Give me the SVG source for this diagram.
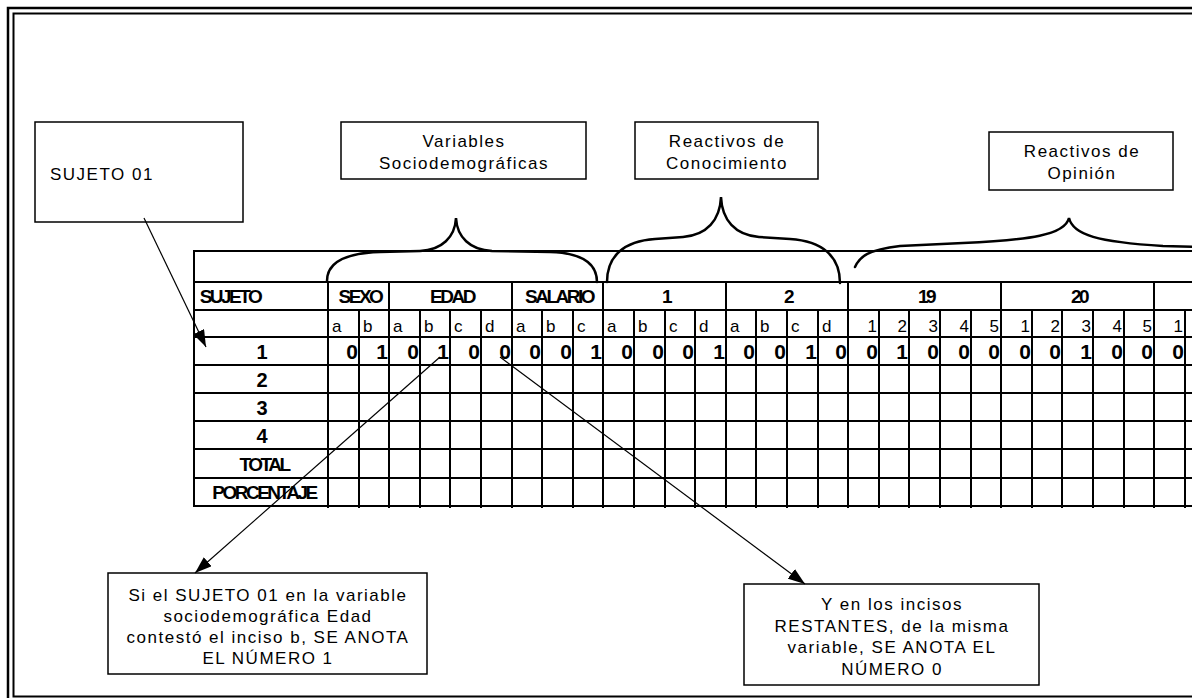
<svg xmlns="http://www.w3.org/2000/svg" width="1192" height="698" viewBox="0 0 1192 698">
<defs>
<style>
.frame{fill:none;stroke:#000}
.box{fill:#fff;stroke:#000;stroke-width:1.5}
.bt{font-family:"Liberation Sans",Arial,sans-serif;font-size:17px;letter-spacing:1.5px;fill:#000}
.c{text-anchor:middle}
.grid line{stroke:#000;stroke-width:2}
.hd{font-family:"Liberation Sans",Arial,sans-serif;font-size:19px;font-weight:bold;letter-spacing:-2.5px;fill:#000;text-anchor:middle}
.lt{font-family:"Liberation Sans",Arial,sans-serif;font-size:17px;fill:#000}
.nr{font-family:"Liberation Sans",Arial,sans-serif;font-size:17px;fill:#000;text-anchor:end}
.val{font-family:"Liberation Sans",Arial,sans-serif;font-size:21px;font-weight:bold;fill:#000;text-anchor:end}
.lab{font-family:"Liberation Sans",Arial,sans-serif;font-size:20px;font-weight:bold;fill:#000;text-anchor:middle}
.brace{fill:none;stroke:#000;stroke-width:2.5;stroke-linecap:round}
.conn line{stroke:#000;stroke-width:1.2}
</style>
<marker id="ah" markerUnits="userSpaceOnUse" markerWidth="18" markerHeight="12" refX="17" refY="6" orient="auto">
<path d="M0,0 L17,6 L0,12 z" fill="#000"/>
</marker>
</defs>
<rect width="1192" height="698" fill="#fff"/>
<g id="frame">
<rect class="frame" x="8" y="8" width="1200" height="700" stroke-width="2.5"/>
<rect class="frame" x="13.5" y="13.5" width="1190" height="683" stroke-width="2"/>
</g>

<g id="box-sujeto">
<rect class="box" x="35" y="122" width="208" height="100"/>
<text class="bt" x="50" y="180">SUJETO 01</text>
</g>
<g id="box-socio">
<rect class="box" x="341" y="122" width="245" height="57"/>
<text class="bt c" x="464" y="147">Variables</text>
<text class="bt c" x="464" y="169">Sociodemográficas</text>
</g>
<g id="box-conoc">
<rect class="box" x="635" y="122" width="183" height="57"/>
<text class="bt c" x="727" y="147">Reactivos de</text>
<text class="bt c" x="727" y="169">Conocimiento</text>
</g>
<g id="box-opinion">
<rect class="box" x="989" y="132" width="184" height="58"/>
<text class="bt c" x="1082" y="157">Reactivos de</text>
<text class="bt c" x="1082" y="179">Opinión</text>
</g>
<g id="box-nota1">
<rect class="box" x="108" y="573" width="319" height="101"/>
<text class="bt c" x="268" y="601">Si el SUJETO 01 en la variable</text>
<text class="bt c" x="268" y="622">sociodemográfica Edad</text>
<text class="bt c" x="268" y="643">contestó el inciso b, SE ANOTA</text>
<text class="bt c" x="268" y="664">EL NÚMERO 1</text>
</g>
<g id="box-nota2">
<rect class="box" x="744" y="584" width="295" height="101"/>
<text class="bt c" x="892" y="610">Y en los incisos</text>
<text class="bt c" x="892" y="632">RESTANTES, de la misma</text>
<text class="bt c" x="892" y="653">variable, SE ANOTA EL</text>
<text class="bt c" x="892" y="675">NÚMERO 0</text>
</g>

<g id="table">
<g class="grid">
<line x1="193" y1="251" x2="1200" y2="251"/>
<line x1="193" y1="282" x2="1200" y2="282"/>
<line x1="193" y1="310" x2="1200" y2="310"/>
<line x1="193" y1="337" x2="1200" y2="337"/>
<line x1="193" y1="365" x2="1200" y2="365"/>
<line x1="193" y1="393" x2="1200" y2="393"/>
<line x1="193" y1="421" x2="1200" y2="421"/>
<line x1="193" y1="449" x2="1200" y2="449"/>
<line x1="193" y1="478" x2="1200" y2="478"/>
<line x1="193" y1="506" x2="1200" y2="506"/>
<line x1="194" y1="250" x2="194" y2="507"/>
<line x1="328" y1="282" x2="328" y2="508"/>
<line x1="389" y1="282" x2="389" y2="508"/>
<line x1="512" y1="282" x2="512" y2="508"/>
<line x1="603" y1="282" x2="603" y2="508"/>
<line x1="726" y1="282" x2="726" y2="508"/>
<line x1="848" y1="282" x2="848" y2="508"/>
<line x1="1001" y1="282" x2="1001" y2="508"/>
<line x1="1154" y1="282" x2="1154" y2="508"/>
<line x1="359" y1="310" x2="359" y2="508"/>
<line x1="420" y1="310" x2="420" y2="508"/>
<line x1="450" y1="310" x2="450" y2="508"/>
<line x1="481" y1="310" x2="481" y2="508"/>
<line x1="542" y1="310" x2="542" y2="508"/>
<line x1="573" y1="310" x2="573" y2="508"/>
<line x1="634" y1="310" x2="634" y2="508"/>
<line x1="665" y1="310" x2="665" y2="508"/>
<line x1="695" y1="310" x2="695" y2="508"/>
<line x1="756" y1="310" x2="756" y2="508"/>
<line x1="787" y1="310" x2="787" y2="508"/>
<line x1="818" y1="310" x2="818" y2="508"/>
<line x1="879" y1="310" x2="879" y2="508"/>
<line x1="909" y1="310" x2="909" y2="508"/>
<line x1="940" y1="310" x2="940" y2="508"/>
<line x1="971" y1="310" x2="971" y2="508"/>
<line x1="1032" y1="310" x2="1032" y2="508"/>
<line x1="1062" y1="310" x2="1062" y2="508"/>
<line x1="1093" y1="310" x2="1093" y2="508"/>
<line x1="1124" y1="310" x2="1124" y2="508"/>
<line x1="1185" y1="310" x2="1185" y2="508"/>
</g>
<g id="header-row">
<text class="hd" x="230" y="303" style="text-anchor:middle">SUJETO</text>
<text class="hd" x="360" y="303">SEXO</text>
<text class="hd" x="452" y="303">EDAD</text>
<text class="hd" x="559" y="303">SALARIO</text>
<text class="hd" x="666" y="303">1</text>
<text class="hd" x="788" y="303">2</text>
<text class="hd" x="926" y="303">19</text>
<text class="hd" x="1079" y="303">20</text>
</g>
<g id="letter-row">
<text class="lt" x="332" y="332">a</text>
<text class="lt" x="363" y="332">b</text>
<text class="lt" x="393" y="332">a</text>
<text class="lt" x="424" y="332">b</text>
<text class="lt" x="454" y="332">c</text>
<text class="lt" x="485" y="332">d</text>
<text class="lt" x="516" y="332">a</text>
<text class="lt" x="546" y="332">b</text>
<text class="lt" x="577" y="332">c</text>
<text class="lt" x="607" y="332">a</text>
<text class="lt" x="638" y="332">b</text>
<text class="lt" x="669" y="332">c</text>
<text class="lt" x="699" y="332">d</text>
<text class="lt" x="730" y="332">a</text>
<text class="lt" x="760" y="332">b</text>
<text class="lt" x="791" y="332">c</text>
<text class="lt" x="822" y="332">d</text>
<text class="nr" x="877" y="332">1</text>
<text class="nr" x="907" y="332">2</text>
<text class="nr" x="938" y="332">3</text>
<text class="nr" x="969" y="332">4</text>
<text class="nr" x="999" y="332">5</text>
<text class="nr" x="1030" y="332">1</text>
<text class="nr" x="1060" y="332">2</text>
<text class="nr" x="1091" y="332">3</text>
<text class="nr" x="1122" y="332">4</text>
<text class="nr" x="1152" y="332">5</text>
<text class="nr" x="1183" y="332">1</text>
</g>
<g id="row-1">
<text class="val" x="358" y="359">0</text>
<text class="val" x="388" y="359">1</text>
<text class="val" x="419" y="359">0</text>
<text class="val" x="449" y="359">1</text>
<text class="val" x="480" y="359">0</text>
<text class="val" x="511" y="359">0</text>
<text class="val" x="541" y="359">0</text>
<text class="val" x="572" y="359">0</text>
<text class="val" x="602" y="359">1</text>
<text class="val" x="633" y="359">0</text>
<text class="val" x="664" y="359">0</text>
<text class="val" x="694" y="359">0</text>
<text class="val" x="725" y="359">1</text>
<text class="val" x="755" y="359">0</text>
<text class="val" x="786" y="359">0</text>
<text class="val" x="817" y="359">1</text>
<text class="val" x="847" y="359">0</text>
<text class="val" x="878" y="359">0</text>
<text class="val" x="908" y="359">1</text>
<text class="val" x="939" y="359">0</text>
<text class="val" x="970" y="359">0</text>
<text class="val" x="1000" y="359">0</text>
<text class="val" x="1031" y="359">0</text>
<text class="val" x="1061" y="359">0</text>
<text class="val" x="1092" y="359">1</text>
<text class="val" x="1123" y="359">0</text>
<text class="val" x="1153" y="359">0</text>
<text class="val" x="1184" y="359">0</text>
</g>
<g id="row-labels">
<text class="lab" x="262" y="359">1</text>
<text class="lab" x="262" y="387">2</text>
<text class="lab" x="262" y="415">3</text>
<text class="lab" x="262" y="443">4</text>
<text class="hd" x="264" y="471">TOTAL</text>
<text class="hd" x="264" y="499">PORCENTAJE</text>
</g>
</g>

<g id="braces">
<path class="brace" d="M327,281 C327,262 345,253 380,252 L420,251 C442,250 455,237 456,218 C457,237 470,250 492,251 L550,252 C585,253 597,265 597,282"/>
<path class="brace" d="M607,282 C607,256 624,241 655,239 L683,237 C707,235 720,220 721,197 C722,220 735,235 759,237 L790,239 C822,241 840,256 840,283"/>
<path class="brace" d="M855,267 C860,256 868,250 900,246 L963,243 C1030,240 1065,235 1069,218 C1073,235 1098,242 1163,246 L1200,247"/>
</g>

<g id="connectors" class="conn">
<line x1="144" y1="218" x2="206" y2="347" marker-end="url(#ah)"/>
<line x1="440" y1="357" x2="195" y2="573" marker-end="url(#ah)"/>
<line x1="500" y1="357" x2="805" y2="584" marker-end="url(#ah)"/>
</g>
</svg>
